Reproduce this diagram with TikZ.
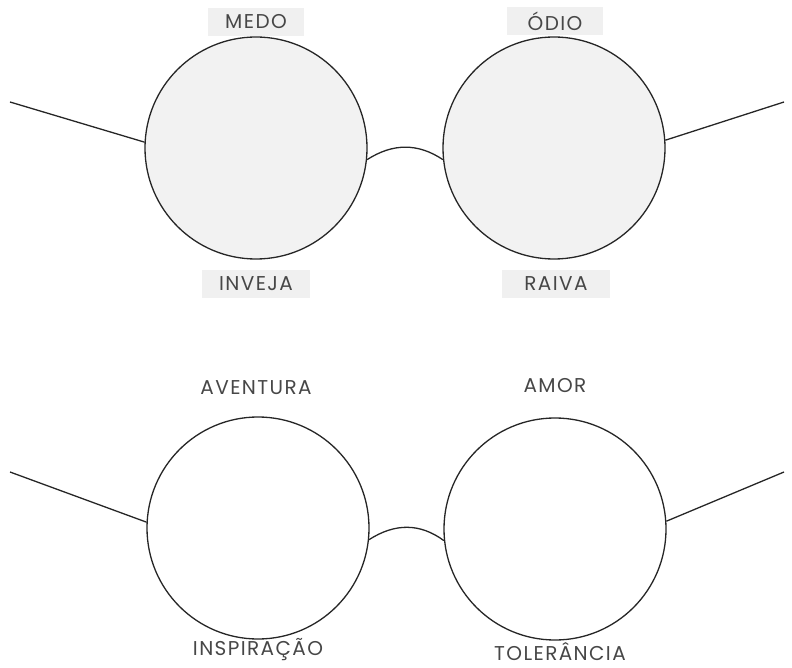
\documentclass[tikz,border=0pt]{standalone}
\usepackage{fontspec}
\setmainfont{Poppins}[LetterSpace=7]
\begin{document}
\begin{tikzpicture}[x=1pt,y=-1pt,
  lens/.style={circle,draw=black!85,line width=1.3pt,minimum size=222pt,inner sep=0pt},
  graylens/.style={lens,fill=black!5},
  whitelens/.style={lens,fill=white},
  wire/.style={draw=black!85,line width=1.3pt},
  tag/.style={fill=black!6,font=\fontsize{20}{23}\selectfont,text=black!72,minimum height=28pt,minimum width=96pt,inner sep=2pt},
  word/.style={font=\fontsize{20}{23}\selectfont,text=black!72,inner sep=1pt}]
\useasboundingbox (0,0) rectangle (792,668);
% top glasses
\node[graylens] (tl) at (256,148) {};
\node[graylens] (tr) at (554,148) {};
\coordinate (tlend) at (10,102);
\coordinate (trend) at (784,102);
\draw[wire] (tlend) -- (tl.177);
\draw[wire] (tr.4) -- (trend);
\draw[wire] (tl.-6) .. controls (393,143) and (418,143) .. (tr.186);
\node[tag] (medo) at (256,22) {MEDO};
\node[tag] (odio) at (555,21) {ÓDIO};
\node[tag,minimum width=108pt] (inveja) at (256,284) {INVEJA};
\node[tag,minimum width=108pt] (raiva) at (556,284) {RAIVA};
% bottom glasses
\node[whitelens] (bl) at (258,528) {};
\node[whitelens] (br) at (555,529) {};
\coordinate (blend) at (10,472);
\coordinate (brend) at (784,472);
\draw[wire] (blend) -- (bl.177);
\draw[wire] (br.4) -- (brend);
\draw[wire] (bl.-6) .. controls (395,523) and (420,523) .. (br.186);
\node[word] (aventura) at (256,388) {AVENTURA};
\node[word] (amor) at (555,386) {AMOR};
\node[word] (inspiracao) at (258,650) {INSPIRAÇÃO};
\node[word] (tolerancia) at (560,652) {TOLERÂNCIA};
\end{tikzpicture}
\end{document}
